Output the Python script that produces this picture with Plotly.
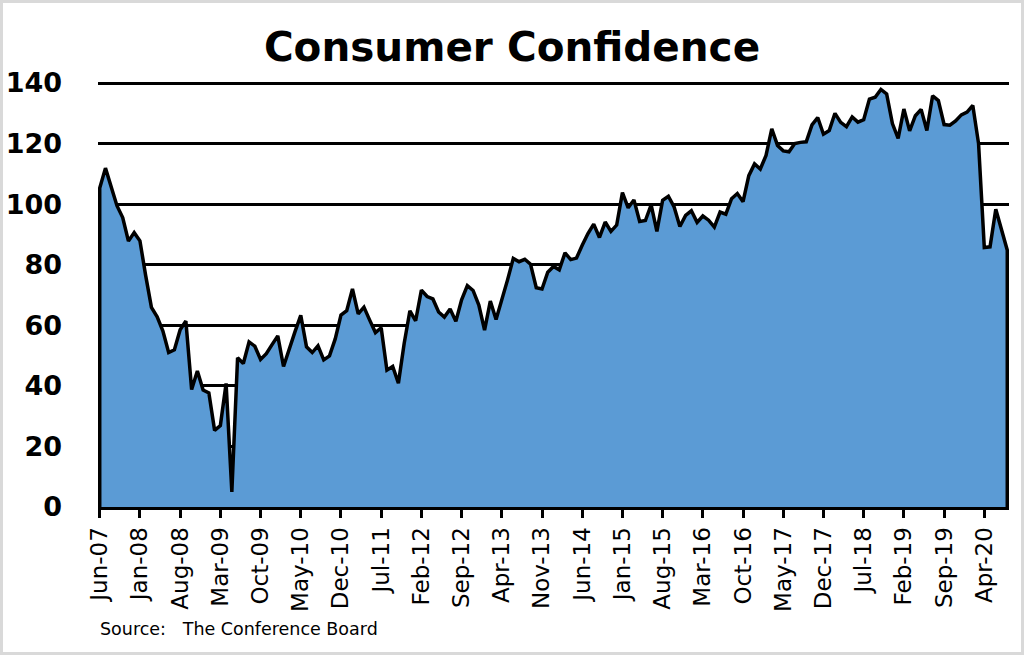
import pandas as pd
import plotly.graph_objects as go

# monthly index, Jun-07 .. Aug-20
months = pd.date_range("2007-06-01", "2020-08-01", freq="MS").strftime("%b-%y").tolist()

confidence = [
    105.3, 111.9, 105.6, 99.5, 95.6, 87.8, 90.6,                                # 2007
    87.9, 76.4, 65.9, 62.8, 58.1, 51.0, 51.9, 58.5, 61.4, 38.8, 44.9, 38.6,     # 2008
    37.7, 25.3, 26.9, 40.8, 5.0, 49.3, 47.4, 54.5, 53.1, 48.7, 50.6, 53.6,      # 2009
    56.5, 46.4, 52.5, 57.9, 63.3, 52.9, 51.0, 53.2, 48.6, 49.9, 55.5, 63.4,     # 2010
    64.8, 72.0, 63.8, 66.0, 61.7, 57.6, 59.2, 45.2, 46.4, 40.9, 54.0, 64.8,     # 2011
    61.5, 71.6, 69.5, 68.7, 64.4, 62.7, 65.4, 61.3, 68.4, 73.1, 71.5, 66.7,     # 2012
    58.4, 68.0, 61.9, 68.1, 75.0, 82.1, 81.0, 81.8, 80.2, 72.4, 72.0, 77.5,     # 2013
    79.4, 78.3, 83.9, 81.7, 82.2, 86.4, 90.3, 93.4, 89.0, 94.1, 91.0, 93.1,     # 2014
    103.8, 98.8, 101.4, 94.3, 94.6, 99.8, 91.0, 101.3, 102.6, 99.1, 92.6, 96.3, # 2015
    97.8, 94.0, 96.1, 94.7, 92.4, 97.4, 96.7, 101.8, 103.5, 100.8, 109.4, 113.3,  # 2016
    111.6, 116.1, 124.9, 119.4, 117.6, 117.3, 120.0, 120.4, 120.6, 126.2, 128.6, 123.1,  # 2017
    124.3, 130.0, 127.0, 125.6, 128.8, 127.1, 127.9, 134.7, 135.3, 137.9, 136.4, 126.6,  # 2018
    121.7, 131.4, 124.2, 129.2, 131.3, 124.3, 135.8, 134.2, 126.3, 126.1, 127.5, 129.5,  # 2019
    130.4, 132.6, 120.0, 85.7, 85.9, 98.3, 91.7, 84.8,                          # 2020
]

tick_labels = months[::7]
y_ticks = [0, 20, 40, 60, 80, 100, 120, 140]

W, H = 1024, 655
L, R, T, B = 98, 15, 80, 148
pw, ph = W - L - R, H - T - B

fig = go.Figure()
# closed outline like the excel area chart (drops to zero at both ends)
fig.add_trace(go.Scatter(
    x=[months[0]] + months + [months[-1]],
    y=[0] + confidence + [0],
    mode="lines",
    fill="tozeroy",
    fillcolor="#5B9BD5",
    line=dict(color="black", width=3.5),
    hoverinfo="skip",
))

fig.update_layout(
    width=W, height=H,
    margin=dict(l=L, r=R, t=T, b=B, autoexpand=False),
    paper_bgcolor="white",
    plot_bgcolor="white",
    showlegend=False,
    font=dict(family="DejaVu Sans", color="black"),
    title=dict(text="<b>Consumer Confidence</b>", x=0.5, xref="container", xanchor="center",
               y=1 - 47 / H, yref="container", yanchor="middle",
               font=dict(size=40.5, color="black")),
)

fig.update_xaxes(
    type="category",
    categoryorder="array", categoryarray=months,
    range=[-0.3, len(months) - 1 + 0.3],
    tickmode="array", tickvals=tick_labels, ticktext=tick_labels,
    tickangle=-90,
    tickfont=dict(size=23),
    showgrid=False, zeroline=False,
    showline=True, linecolor="black", linewidth=3,
    ticks="outside", ticklen=8, tickwidth=3, tickcolor="black",
    automargin=False,
)
fig.update_yaxes(
    range=[0, 141],  # a little headroom so the 140 gridline is drawn
    tickmode="array", tickvals=y_ticks,
    ticktext=["<b>%d</b>" % v for v in y_ticks],
    tickfont=dict(size=27),
    showgrid=True, gridcolor="black", gridwidth=2.5,
    zeroline=False, showline=False, ticks="",
    ticklabelstandoff=35,
    automargin=False,
)

fig.add_annotation(
    text="Source:   The Conference Board",
    xref="paper", yref="paper",
    x=0, y=(H - 629 - B) / ph,
    xanchor="left", yanchor="middle", showarrow=False,
    font=dict(size=17.5, color="black"),
)

# thin grey frame around the whole picture
fig.add_shape(
    type="rect", xref="paper", yref="paper",
    x0=(1.5 - L) / pw, x1=(W - 1.5 - L) / pw,
    y0=(1.5 - B) / ph, y1=(H - 1.5 - B) / ph,
    line=dict(color="#d9d9d9", width=3),
    layer="below",
)

fig.write_html("out.html", config={"displayModeBar": False},
               post_script="document.body.style.margin='0px';")
